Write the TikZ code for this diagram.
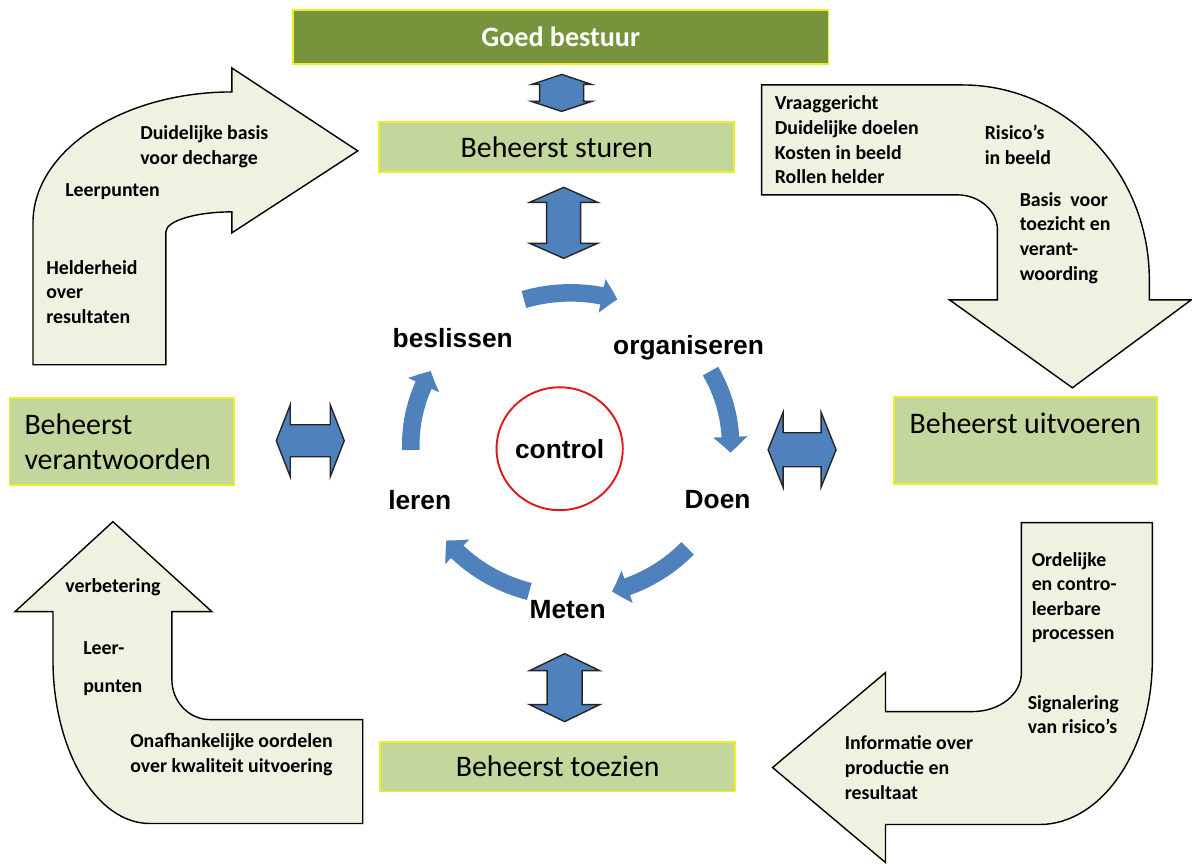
\documentclass[tikz,border=0pt]{standalone}
\usepackage{fontspec}
\setmainfont{Carlito}
\newfontfamily\arialfont{Liberation Sans}
\usetikzlibrary{arrows.meta,bending,shapes.geometric,positioning,calc}

\definecolor{bestuurgreen}{HTML}{77933C}
\definecolor{boxgreen}{HTML}{C3D69B}
\definecolor{edgeyellow}{HTML}{EEEE22}
\definecolor{bochtfill}{HTML}{EEF2E1}
\definecolor{cycleblue}{HTML}{4F81BD}
\definecolor{ringred}{HTML}{E0191E}

\begin{document}
\begin{tikzpicture}[
    x=0.02cm, y=-0.02cm,
    kader/.style={draw=edgeyellow, line width=1.1pt, fill=boxgreen, inner sep=0pt, font=\fontsize{17}{20}\selectfont},
    bocht/.style={draw=black, line width=0.8pt, fill=bochtfill},
    tekst/.style={anchor=west, align=left, inner sep=0pt, font=\fontsize{11.3}{14}\selectfont\bfseries},
    fase/.style={inner sep=0pt, font=\arialfont\bfseries\fontsize{15}{18}\selectfont},
    koppel/.style={draw=black!85, line width=0.8pt, fill=cycleblue, line join=miter},
    kring/.style={cycleblue, line width=10pt, -{Triangle[length=9pt,width=19pt,bend]}}
]
\fill[white] (0,0) rectangle (1192,864);

% vakken
\node[kader, fill=bestuurgreen, text=white, minimum width=10.72cm, minimum height=1.08cm, font=\fontsize{16}{19}\selectfont\bfseries] (goed) at (561,37) {Goed bestuur};
\node[kader, minimum width=7.1cm, minimum height=1cm] (sturen) at (557,147) {Beheerst sturen};
\node[kader, minimum width=7.1cm, minimum height=1cm] (toezien) at (558,767) {Beheerst toezien};
\node[kader, minimum width=4.5cm, minimum height=1.74cm, text width=3.9cm, align=left] (verantw) at (122,442) {Beheerst\\verantwoorden};
\node[kader, minimum width=5.26cm, minimum height=1.74cm, align=center] (uitv) at (1026,441) {Beheerst uitvoeren\\~};

% gebogen pijlen
\draw[bocht] (33,365) -- (33,223) .. controls (33,151) and (122,92) .. (232,92) -- (232,68) -- (358,151) -- (232,233) -- (232,212) .. controls (196,212) and (166,221) .. (166,232) -- (166,365) -- cycle;
\draw[bocht] (762,85) -- (963,85) .. controls (1066,85) and (1150,172) .. (1150,280) -- (1150,300) -- (1192,300) -- (1073,388) -- (950,300) -- (998,300) -- (998,230) .. controls (998,211) and (980,195) .. (958,195) -- (762,195) -- cycle;
\draw[bocht] (1022,523) -- (1153,523) -- (1153,660) .. controls (1153,751) and (1102,825) .. (1040,825) -- (886,825) -- (886,863) -- (773,768) -- (886,673) -- (886,712) -- (973,712) .. controls (1000,712) and (1022,695) .. (1022,673) -- cycle;
\draw[bocht] (113,522) -- (212,612) -- (172,612) -- (172,680) .. controls (172,702) and (189,720) .. (210,720) -- (363,720) -- (363,824) -- (150,824) .. controls (96,824) and (53,750) .. (53,660) -- (53,612) -- (15,612) -- cycle;

\node[tekst] (decharge) at (140,147) {Duidelijke basis\\voor decharge};
\node[tekst] (leerpunten) at (65,192) {Leerpunten};
\node[tekst] (helderheid) at (46,292) {Helderheid\\over\\resultaten};
\node[tekst] (vraag) at (775,140) {Vraaggericht\\Duidelijke doelen\\Kosten in beeld\\Rollen helder};
\node[tekst] (risico) at (985,145) {Risico’s\\in beeld};
\node[tekst] (basis) at (1020,238) {Basis\ \ voor\\toezicht en\\verant-\\woording};
\node[tekst] (ordelijk) at (1032,598) {Ordelijke\\en contro-\\leerbare\\processen};
\node[tekst] (signaal) at (1028,715) {Signalering\\van risico’s};
\node[tekst] (informatie) at (845,768) {Informatie over\\productie en\\resultaat};
\node[tekst] (verbetering) at (65,588) {verbetering};
\node[tekst] (leer) at (83,669) {Leer-\\[7.5pt]punten};
\node[tekst] (oordeel) at (130,755) {Onafhankelijke oordelen\\over kwaliteit uitvoering};

% koppelingen
\coordinate (pijl1) at ($(goed.south)!0.5!(sturen.north)+(3,0)$);
\coordinate (pijl2) at ($(sturen.south)+(7,50)$);
\coordinate (pijl3) at ($(toezien.north)+(7,-53)$);
\coordinate (pijl4) at ($(verantw.east)+(75,-1)$);
\coordinate (pijl5) at ($(uitv.west)+(-91,9)$);
\draw[koppel, shift={(pijl1)}] (0,-18.5) -- (30,-8.5) -- (22,-8.5) -- (22,8.5) -- (30,8.5) -- (0,18.5) -- (-30,8.5) -- (-22,8.5) -- (-22,-8.5) -- (-30,-8.5) -- cycle;
\draw[koppel, shift={(pijl2)}] (0,-35.5) -- (34,-20.5) -- (17,-20.5) -- (17,20.5) -- (34,20.5) -- (0,35.5) -- (-34,20.5) -- (-17,20.5) -- (-17,-20.5) -- (-34,-20.5) -- cycle;
\draw[koppel, shift={(pijl3)}] (0,-34) -- (35,-17) -- (17.5,-17) -- (17.5,17) -- (35,17) -- (0,34) -- (-35,17) -- (-17.5,17) -- (-17.5,-17) -- (-35,-17) -- cycle;
\draw[koppel, shift={(pijl4)}] (-34,0) -- (-20,-36) -- (-20,-16) -- (20,-16) -- (20,-36) -- (34,0) -- (20,36) -- (20,16) -- (-20,16) -- (-20,36) -- cycle;
\draw[koppel, shift={(pijl5)}] (-34,0) -- (-19,-37.5) -- (-19,-17) -- (19,-17) -- (19,-37.5) -- (34,0) -- (19,37.5) -- (19,17) -- (-19,17) -- (-19,37.5) -- cycle;

% kringloop
\coordinate (kern) at (571,445);
\node[draw=ringred, line width=1.1pt, ellipse, minimum width=2.5cm, minimum height=2.46cm, fase] (control) at (560,449) {control};
\node[fase] (beslissen) at (453,338) {beslissen};
\node[fase] (organiseren) at (689,348) {organiseren};
\node[fase] (doen) at (718,500) {Doen};
\node[fase] (meten) at (568,610) {Meten};
\node[fase] (leren) at (420,500) {leren};

\draw[kring] ([shift={(107:3.2cm and 3.04cm)}]kern) arc[start angle=107, end angle=73, x radius=3.2cm, y radius=3.04cm];
\draw[kring] ([shift={(29:3.2cm and 3.04cm)}]kern) arc[start angle=29, end angle=-3, x radius=3.2cm, y radius=3.04cm];
\draw[kring] ([shift={(-43:3.2cm and 3.04cm)}]kern) arc[start angle=-43, end angle=-75, x radius=3.2cm, y radius=3.04cm];
\draw[kring] ([shift={(-105:3.2cm and 3.04cm)}]kern) arc[start angle=-105, end angle=-141, x radius=3.2cm, y radius=3.04cm];
\draw[kring] ([shift={(182:3.2cm and 3.04cm)}]kern) arc[start angle=182, end angle=151, x radius=3.2cm, y radius=3.04cm];
\end{tikzpicture}
\end{document}
